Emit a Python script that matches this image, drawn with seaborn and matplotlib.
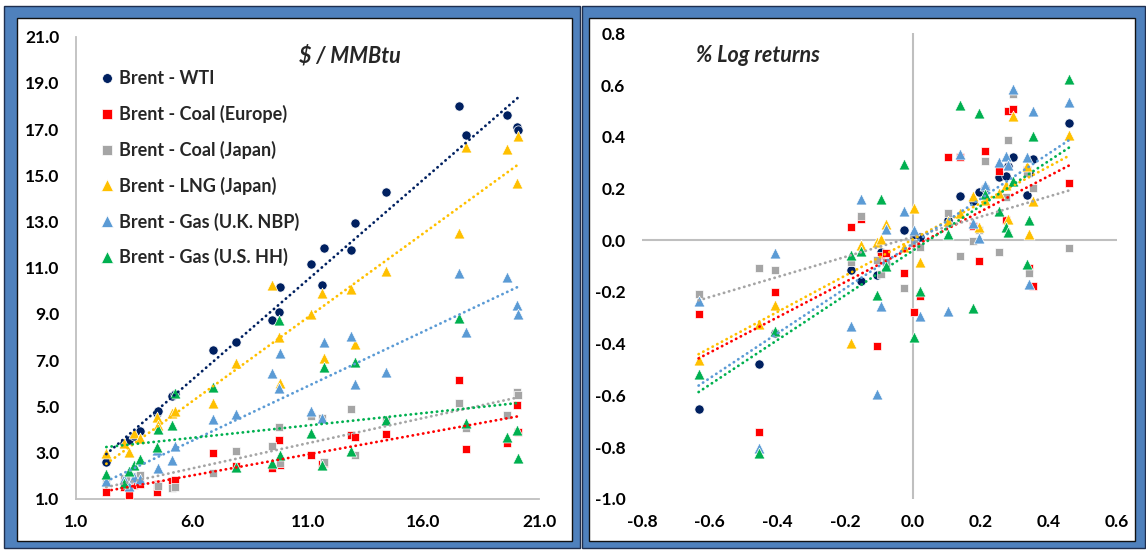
import numpy as np
import pandas as pd
import matplotlib
matplotlib.use("Agg")
import matplotlib.pyplot as plt
from matplotlib.patches import Rectangle
from matplotlib.lines import Line2D
import seaborn as sns

# ---------------------------------------------------------------- data
SERIES = ["Brent - WTI", "Brent - Coal (Europe)", "Brent - Coal (Japan)",
          "Brent - LNG (Japan)", "Brent - Gas (U.K. NBP)", "Brent - Gas (U.S. HH)"]
COLORS = ["#002060", "#FF0000", "#A5A5A5", "#FFC000", "#5B9BD5", "#00B050"]
MARKERS = ["o", "s", "s", "^", "^", "^"]
SIZES = {"o": 44, "s": 38, "^": 62}

# Price levels, $/MMBtu (Brent on the horizontal axis)
brent_level = [2.3, 3.05, 3.3, 3.5, 3.75, 4.5, 4.55, 5.15, 5.25, 6.9, 7.9, 9.47, 9.77,
               9.82, 11.13, 11.6, 11.72, 12.85, 13.05, 14.38, 17.53, 17.85, 19.62,
               20.05, 20.1]
wti_level = [2.6, 3.4, 3.55, 3.7, 3.95, 4.7, 4.8, 5.45, 5.55, 7.45, 7.8, 8.75, 9.1,
             10.15, 11.15, 10.25, 11.85, 11.75, 12.95, 14.27, 18.02, 16.75, 17.6,
             17.1, 16.95]
coal_eu_level = [1.3, 1.5, 1.15, 1.6, 1.65, 1.3, 1.65, 1.75, 1.82, 3.0, 2.4, 2.32, 3.55,
                 2.45, 2.9, 2.5, 2.55, 3.78, 3.66, 3.79, 6.14, 3.14, 3.4, 5.06, 3.9]
coal_jp_level = [1.7, 1.9, 1.8, 2.0, 2.05, 1.6, 1.55, 1.45, 1.5, 2.12, 3.05, 3.3, 4.1,
                 2.55, 4.6, 4.5, 2.6, 4.87, 2.9, 4.4, 5.13, 4.05, 4.63, 5.64, 5.5]
lng_jp_level = [3.0, 3.43, 3.04, 3.86, 3.62, 4.55, 4.19, 4.7, 4.8, 5.16, 6.9, 10.27,
                8.02, 6.0, 9.0, 9.9, 7.08, 10.07, 7.69, 10.87, 12.52, 16.24, 16.13,
                14.66, 16.7]
nbp_level = [1.75, 1.85, 1.56, 1.94, 1.85, 3.13, 2.32, 2.7, 3.29, 4.44, 4.65, 6.46,
             5.78, 7.32, 4.81, 4.48, 7.8, 8.05, 5.97, 6.5, 10.76, 8.23, 10.59, 9.39, 9.0]
hh_level = [2.07, 1.67, 2.22, 2.46, 2.71, 3.26, 4.02, 4.19, 5.6, 5.83, 2.39, 2.54, 8.74,
            2.9, 3.84, 2.46, 6.72, 3.08, 6.94, 4.41, 8.81, 4.29, 3.69, 3.98, 2.75]

# Log returns (Brent on the horizontal axis)
brent_ret = [-0.633, -0.454, -0.408, -0.182, -0.155, -0.106, -0.096, -0.080, -0.027,
             0.004, 0.021, 0.104, 0.139, 0.177, 0.194, 0.212, 0.253, 0.274, 0.281,
             0.294, 0.335, 0.343, 0.353, 0.460]
wti_ret = [-0.652, -0.479, -0.360, -0.116, -0.157, -0.133, -0.045, -0.090, 0.040, 0.005,
           0.011, 0.080, 0.172, 0.153, 0.185, 0.200, 0.246, 0.250, 0.288, 0.323, 0.176,
           0.260, 0.314, 0.452]
coal_eu_ret = [-0.285, -0.742, -0.200, 0.050, 0.081, -0.410, -0.060, -0.050, -0.128,
               -0.279, -0.214, 0.323, 0.320, 0.056, -0.079, 0.344, 0.269, 0.080, 0.501,
               0.508, 0.270, -0.109, -0.179, 0.221]
coal_jp_ret = [-0.208, -0.109, -0.116, -0.086, 0.092, -0.075, -0.129, -0.086, -0.184,
               -0.010, -0.025, 0.104, -0.063, -0.002, 0.040, 0.307, -0.047, 0.166, 0.388,
               0.566, 0.260, -0.126, 0.201, -0.031]
lng_jp_ret = [-0.462, -0.326, -0.249, -0.398, -0.018, -0.007, 0.006, 0.063, -0.027, 0.124,
              -0.083, 0.074, 0.104, 0.169, 0.050, 0.157, 0.183, 0.215, 0.082, 0.482,
              0.285, 0.023, 0.151, 0.405]
nbp_ret = [-0.236, -0.803, -0.048, -0.330, 0.158, -0.593, -0.254, 0.044, 0.114, 0.041,
           -0.295, -0.272, 0.333, 0.065, 0.009, 0.212, 0.301, 0.327, 0.290, 0.585, 0.320,
           -0.169, 0.501, 0.533]
hh_ret = [-0.516, -0.823, -0.350, -0.058, -0.043, -0.211, 0.158, -0.100, 0.295, -0.375,
          -0.197, 0.024, 0.523, -0.263, 0.491, 0.179, 0.114, 0.050, 0.031, 0.230, -0.092,
          0.078, 0.404, 0.624]

level_ticks_x = [1.0, 6.0, 11.0, 16.0, 21.0]
level_ticks_y = [1.0, 3.0, 5.0, 7.0, 9.0, 11.0, 13.0, 15.0, 17.0, 19.0, 21.0]
ret_ticks_x = [-0.8, -0.6, -0.4, -0.2, 0.0, 0.2, 0.4, 0.6]
ret_ticks_y = [-1.0, -0.8, -0.6, -0.4, -0.2, 0.0, 0.2, 0.4, 0.6, 0.8]


def long_frame(x, ys):
    parts = [pd.DataFrame({"brent": x, "value": y, "series": name})
             for name, y in zip(SERIES, ys)]
    return pd.concat(parts, ignore_index=True)


levels = long_frame(brent_level, [wti_level, coal_eu_level, coal_jp_level,
                                  lng_jp_level, nbp_level, hh_level])
returns = long_frame(brent_ret, [wti_ret, coal_eu_ret, coal_jp_ret,
                                 lng_jp_ret, nbp_ret, hh_ret])

# ---------------------------------------------------------------- style
sns.set_theme(style="white")
plt.rcParams["font.family"] = ["Lato", "DejaVu Sans"]
plt.rcParams["axes.unicode_minus"] = False

W, H = 1146, 550
fig = plt.figure(figsize=(W / 100, H / 100), dpi=100)
fig.patch.set_facecolor("white")


def px_rect(x0, y0, x1, y1, **kw):
    r = Rectangle((x0 / W, 1 - y1 / H), (x1 - x0) / W, (y1 - y0) / H,
                  transform=fig.transFigure, **kw)
    fig.add_artist(r)


FRAME_BLUE = "#4F81BD"
EDGE = "#1F2F4F"
for (ox0, ox1, ix0, ix1) in [(4, 580, 17, 572), (582, 1145, 589, 1135)]:
    px_rect(ox0, 6, ox1, 548, facecolor=FRAME_BLUE, edgecolor=EDGE, lw=1.0, zorder=-10)
    px_rect(ix0, 18, ix1, 541, facecolor="white", edgecolor="#111111", lw=1.0, zorder=-9)

ax1 = fig.add_axes([76.2 / W, 1 - 498.8 / H, 463 / W, 462 / H])
ax2 = fig.add_axes([642 / W, 1 - 498.8 / H, 474.5 / W, 465.5 / H])
for ax in (ax1, ax2):
    ax.set_facecolor("none")

LINE_KW = dict(lw=2.0, linestyle=(0, (0.1, 1.8)), dash_capstyle="round", zorder=4)


def draw(ax, df, fitted):
    for name, c, m in zip(SERIES, COLORS, MARKERS):
        sub = df[df["series"] == name]
        sns.scatterplot(data=sub, x="brent", y="value", ax=ax, color=c, marker=m,
                        s=SIZES[m], edgecolor="white", linewidth=0.5, zorder=3,
                        legend=False)
    for name, c in zip(SERIES, COLORS):
        if name not in fitted:
            continue
        sub = df[df["series"] == name]
        sns.regplot(data=sub, x="brent", y="value", ax=ax, scatter=False, ci=None,
                    truncate=True, color=c, line_kws=LINE_KW)
    ax.set_xlabel("")
    ax.set_ylabel("")


draw(ax1, levels, SERIES)
draw(ax2, returns, SERIES[1:])

TICK_FONT = dict(fontsize=12.5, fontweight="bold", color="black")
GRAY = "#BFBFBF"

# Left panel: price levels
ax1.set_xlim(1, 21)
ax1.set_ylim(1, 21)
ax1.set_xticks(level_ticks_x)
ax1.set_yticks(level_ticks_y)
ax1.set_xticklabels([f"{v:.1f}" for v in level_ticks_x], **TICK_FONT)
ax1.set_yticklabels([f"{v:.1f}" for v in level_ticks_y], **TICK_FONT)
for s in ("top", "right"):
    ax1.spines[s].set_visible(False)
for s in ("left", "bottom"):
    ax1.spines[s].set_color(GRAY)
    ax1.spines[s].set_linewidth(1.3)
ax1.tick_params(axis="both", length=0)
ax1.tick_params(axis="y", pad=12)
ax1.tick_params(axis="x", pad=11)
ax1.text(0.592, 0.958, "$ / MMBtu", transform=ax1.transAxes, ha="center", va="center",
         fontsize=15.5, fontweight="bold", fontstyle="italic")

handles = [Line2D([], [], linestyle="none", marker=m, color=c, markersize=7 if m != "^" else 8,
                  markeredgecolor="white", markeredgewidth=0.5)
           for c, m in zip(COLORS, MARKERS)]
ax1.legend(handles, SERIES, loc="upper left", bbox_to_anchor=(0.031, 0.947), frameon=False,
           borderpad=0, handlelength=0.8, handletextpad=0.3, labelspacing=0.98,
           prop=dict(size=13, weight="bold"))

# Right panel: log returns
ax2.set_xlim(-0.8, 0.6)
ax2.set_ylim(-1.0, 0.8)
ax2.set_xticks(ret_ticks_x)
ax2.set_yticks(ret_ticks_y)
ax2.set_xticklabels([f"{v:.1f}" for v in ret_ticks_x], **TICK_FONT)
ax2.set_yticklabels([f"{v:.1f}" for v in ret_ticks_y], **TICK_FONT)
for s in ax2.spines.values():
    s.set_visible(False)
ax2.axhline(0, color=GRAY, lw=1.5, zorder=1)
ax2.axvline(0, color=GRAY, lw=1.5, zorder=1)
ax2.tick_params(axis="both", length=0)
ax2.tick_params(axis="y", pad=12)
ax2.tick_params(axis="x", pad=11)
ax2.text(0.244, 0.953, "% Log returns", transform=ax2.transAxes, ha="center", va="center",
         fontsize=15.5, fontweight="bold", fontstyle="italic")

fig.savefig("out.png", dpi=100)
